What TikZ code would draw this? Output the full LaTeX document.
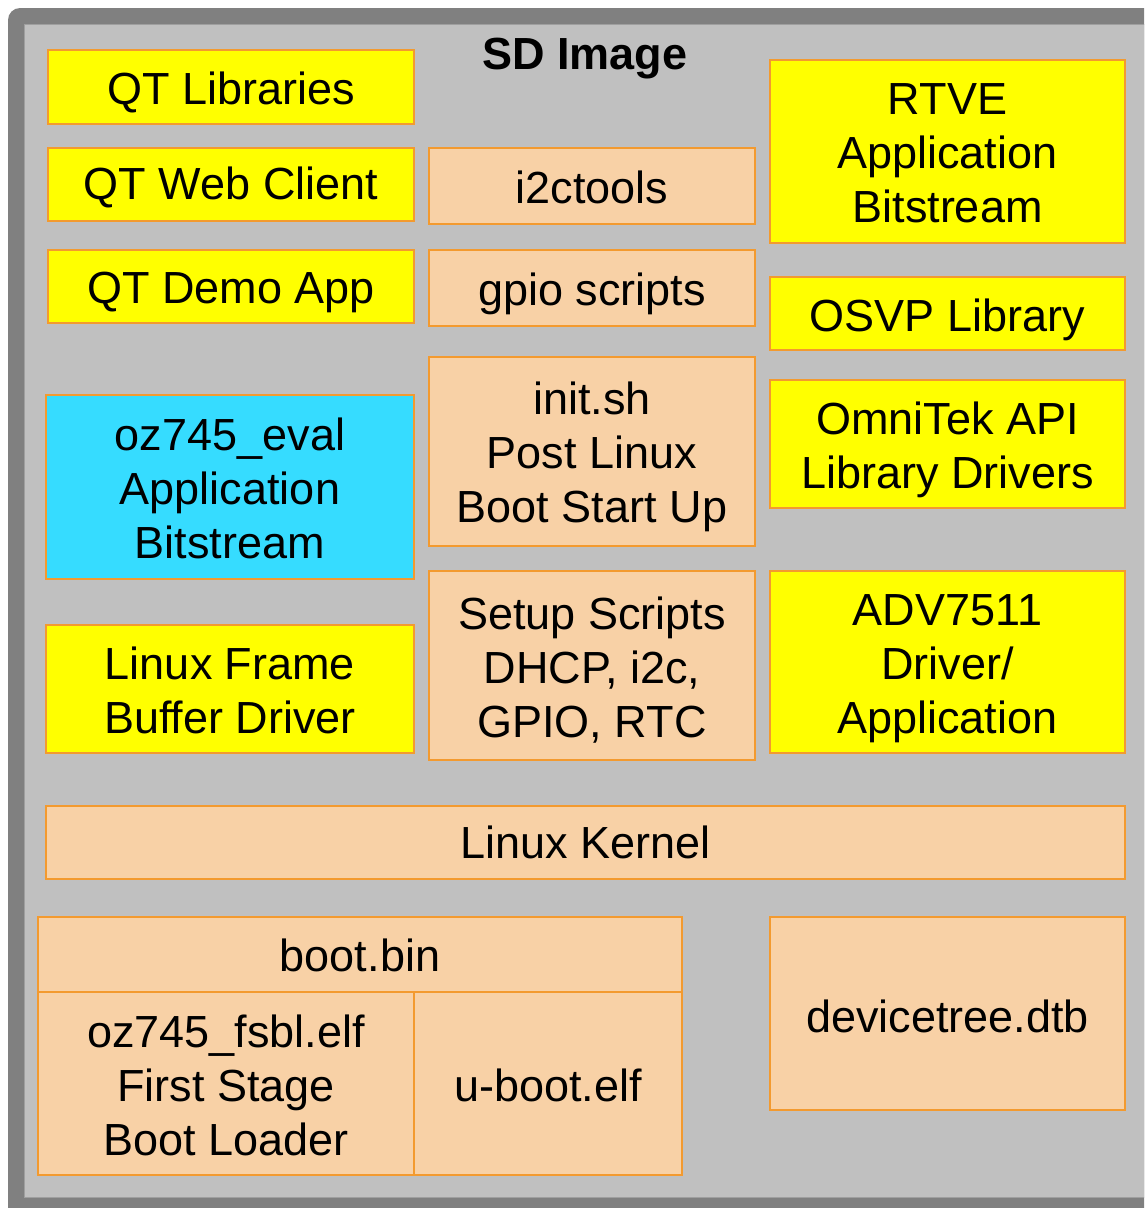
\documentclass[tikz,border=0pt]{standalone}
\usepackage{fontspec}
\setmainfont{Liberation Sans}
\definecolor{frameg}{HTML}{808080}
\definecolor{innerg}{HTML}{C0C0C0}
\definecolor{boxyel}{HTML}{FFFF00}
\definecolor{boxpeach}{HTML}{F8D1A6}
\definecolor{boxcyan}{HTML}{36DCFF}
\definecolor{boxedge}{HTML}{F39A2F}
\tikzset{
  blk/.style={draw=boxedge, line width=2pt, inner sep=0pt},
  ybox/.style={blk, fill=boxyel},
  pbox/.style={blk, fill=boxpeach},
  cbox/.style={blk, fill=boxcyan},
  txt/.style={inner sep=0pt, align=center, font=\fontsize{45}{54}\selectfont},
  sz/.style 2 args={minimum width=#1pt, minimum height=#2pt},
}
% style, name, centre, width, height, text shift down, text
\newcommand\mybx[7]{%
  \node[#1, sz={#4}{#5}] (#2) at (#3) {};
  \node[txt] (#2-t) at ([yshift=-#6pt]#2.center) {#7};}
\begin{document}
\begin{tikzpicture}[x=1pt,y=-1pt]
\useasboundingbox (0,0) rectangle (1144,1208);
\clip (0,0) rectangle (1144,1208);
\fill[white] (0,0) rectangle (1144,1208);
\fill[frameg, rounded corners=12pt] (8,8) rectangle (1170,1230);
\fill[innerg] (24,24) rectangle (1170,1197);
\draw[color=gray!75, line width=1pt] (24,1197) -- (24,24) -- (1170,24);
\draw[color=gray!75, line width=1pt] (24,1197) -- (1170,1197);
\node[txt, font=\bfseries\fontsize{45}{54}\selectfont] (title) at (585,59) {SD Image};
\mybx{ybox}{qtlib}{231,87}{366}{74}{5}{QT Libraries}
\mybx{ybox}{qtweb}{231,184.5}{366}{73}{3}{QT Web Client}
\mybx{ybox}{qtdemo}{231,286.5}{366}{73}{6}{QT Demo App}
\mybx{cbox}{ozeval}{230,487}{368}{184}{1}{oz745\_eval\\Application\\Bitstream}
\mybx{ybox}{fb}{230,689}{368}{128}{1}{Linux Frame\\Buffer Driver}
\mybx{pbox}{i2c}{592,186}{326}{76}{1}{i2ctools}
\mybx{pbox}{gpio}{592,288}{326}{76}{6}{gpio scripts}
\mybx{pbox}{init}{592,451.5}{326}{189}{5}{init.sh\\Post Linux\\Boot Start Up}
\mybx{pbox}{setup}{592,665.5}{326}{189}{4.5}{Setup Scripts\\DHCP, i2c,\\GPIO, RTC}
\mybx{ybox}{rtve}{947.5,151.5}{355}{183}{1.5}{RTVE\\Application\\Bitstream}
\mybx{ybox}{osvp}{947.5,313.5}{355}{73}{6}{OSVP Library}
\mybx{ybox}{omni}{947.5,444}{355}{128}{5.5}{OmniTek API\\Library Drivers}
\mybx{ybox}{adv}{947.5,662}{355}{182}{6.5}{ADV7511\\Driver/\\Application}
\mybx{pbox}{kernel}{585.5,842.5}{1079}{73}{0}{Linux Kernel}
\mybx{pbox}{bootbin}{360,954.5}{644}{75}{1}{boot.bin}
\mybx{pbox}{fsbl}{226,1083.5}{376}{183}{1.5}{oz745\_fsbl.elf\\First Stage\\Boot Loader}
\mybx{pbox}{uboot}{548,1083.5}{268}{183}{2}{u-boot.elf}
\mybx{pbox}{dtb}{947.5,1013.5}{355}{193}{3}{devicetree.dtb}
\end{tikzpicture}
\end{document}
